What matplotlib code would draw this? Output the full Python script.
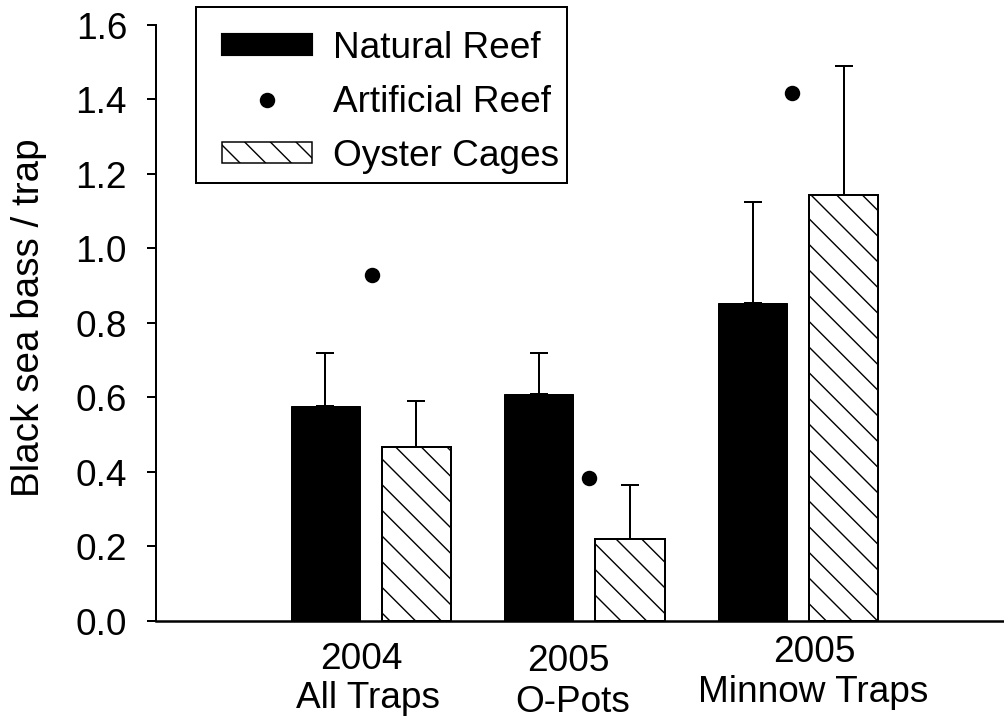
import matplotlib
matplotlib.use("Agg")
import matplotlib.pyplot as plt
from matplotlib.patches import Rectangle
from matplotlib.lines import Line2D
import matplotlib.transforms as mtrans
import numpy as np

# ---- data ----
categories = ["2004\nAll Traps", "2005\nO-Pots", "2005\nMinnow Traps"]
natural = [0.577, 0.609, 0.854]
natural_se = [0.142, 0.110, 0.271]
artificial = [0.928, 0.384, 1.416]
oyster = [0.466, 0.221, 1.142]
oyster_se = [0.124, 0.144, 0.347]
yticks = [0.0, 0.2, 0.4, 0.6, 0.8, 1.0, 1.2, 1.4, 1.6]
series_labels = ["Natural Reef", "Artificial Reef", "Oyster Cages"]
ylabel = "Black sea bass / trap"

# ---- style ----
DPI = 154
W, H = 1004, 723
PT = 72.0 / DPI  # points per pixel
FS = 37 * PT
HATCH = '\\\\'
plt.rcParams['font.family'] = ['Liberation Sans', 'DejaVu Sans']
plt.rcParams['hatch.linewidth'] = 0.65
plt.rcParams['hatch.color'] = 'black'

fig = plt.figure(figsize=((W + 0.4) / DPI, (H + 0.4) / DPI), dpi=DPI)
ax = fig.add_axes([156 / W, 102 / H, 848 / W, 596 / H])

x = np.arange(len(categories))
bw = 0.323
off = 0.213
dot_dx = [0.007, 0.019, -0.028]

ax.bar(x - off, natural, bw, color='black', edgecolor='black', linewidth=1 * PT, zorder=2)
ax.bar(x + off, oyster, bw, color='white', edgecolor='black', hatch=HATCH, linewidth=2 * PT, zorder=2)

err_kw = dict(fmt='none', ecolor='black', elinewidth=2 * PT, capsize=9 * PT, capthick=2 * PT, zorder=3)
ax.errorbar(x - off, natural, yerr=[np.zeros(3), natural_se], **err_kw)
ax.errorbar(x + off, oyster, yerr=[np.zeros(3), oyster_se], **err_kw)

ax.plot(x + np.array(dot_dx), artificial, 'o', color='black', markersize=13.3 * PT, zorder=4)

ax.set_ylim(0, 1.6)
ax.set_xlim(-1.0035, 2.964)
ax.set_yticks(yticks)
ax.set_yticklabels([f"{v:.1f}" for v in yticks], fontsize=FS)
ax.set_xticks([])
ax.tick_params(axis='y', direction='out', length=9 * PT, width=2 * PT, pad=20 * PT)
for s in ['top', 'right']:
    ax.spines[s].set_visible(False)
ax.spines['left'].set_linewidth(2 * PT)
ax.spines['bottom'].set_linewidth(2.5 * PT)

# x category labels (two lines each, placed individually)
line_dx = [(-0.041, -0.014), (-0.073, -0.054), (0.073, 0.070)]
line_base = [(669, 708), (671, 712), (662, 702)]
btrans = mtrans.blended_transform_factory(ax.transData, fig.transFigure)
for i, cat in enumerate(categories):
    l1, l2 = cat.split("\n")
    for txt, dx, by in zip((l1, l2), line_dx[i], line_base[i]):
        fig.text(i + dx, 1 - by / H, txt, fontsize=FS, ha='center', va='baseline',
                 transform=btrans)

# y label
fig.text(29 / W, 1 - 318 / H, ylabel, rotation=90, fontsize=38.7 * PT,
         ha='center', va='center')

# legend (frame drawn separately)
handles = [Rectangle((0, 0), 1, 1, facecolor='black', edgecolor='black'),
           Line2D([], [], marker='o', linestyle='none', color='black', markersize=13.3 * PT),
           Rectangle((0, 0), 1, 1, facecolor='white', edgecolor='black', hatch=HATCH, linewidth=1.5 * PT)]
leg = fig.legend(handles, series_labels, loc='upper left', bbox_to_anchor=(196 / W, 1 - 5 / H),
                 bbox_transform=fig.transFigure, borderaxespad=0, fontsize=FS,
                 handlelength=2.42, handleheight=0.5, handletextpad=0.57,
                 labelspacing=0.52, borderpad=0.7, frameon=False)
fig.patches.append(Rectangle((196 / W, 1 - 183 / H), (567 - 196) / W, (183 - 7) / H,
                             transform=fig.transFigure, facecolor='none', edgecolor='black',
                             linewidth=2 * PT, zorder=5))

fig.savefig("out.png", dpi=DPI)
